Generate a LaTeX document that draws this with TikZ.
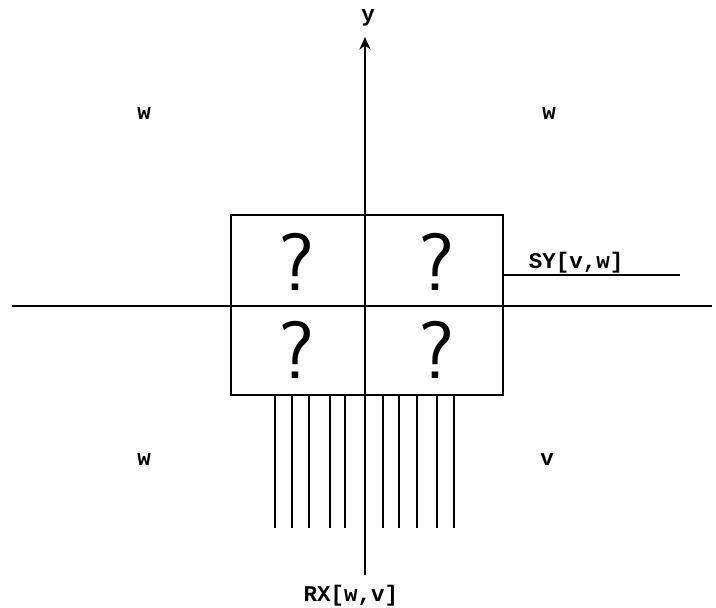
\documentclass[tikz,border=0pt]{standalone}
\usepackage{fontspec}
\setmonofont{Liberation Mono}
\usetikzlibrary{arrows.meta}

\begin{document}
\begin{tikzpicture}[
x=0.025cm, y=-0.025cm,
line width=1.2pt,
lbl/.style={
font=\fontsize{16}{16}\selectfont\ttfamily\bfseries,
inner sep=0pt
},
qmark/.style={
font=\fontsize{58}{58}\selectfont\sffamily,
inner sep=0pt
}
]
\useasboundingbox (0,0) rectangle (716,607);

% axes
\coordinate (xl) at (12,306);
\coordinate (xr) at (712,306);
\coordinate (yb) at (365,575);
\coordinate (yt) at (365,37);

\node[draw, line width=1.2pt, minimum width=6.8cm, minimum height=4.5cm,
inner sep=0pt] (box) at (367,305) {};

\draw (xl) -- (xr);
\draw[-{Stealth[length=9pt,width=8pt,inset=3pt]}] (yb) -- (yt);

\node[lbl] (ylab) at (368,18) {y};

% cells
\node[qmark] (q1) at (297,262) {?};
\node[qmark] (q2) at (437,262) {?};
\node[qmark] (q3) at (297,350) {?};
\node[qmark] (q4) at (437,350) {?};

% region labels
\node[lbl] (nw) at (144,114) {w};
\node[lbl] (ne) at (549,114) {w};
\node[lbl] (sw) at (144,460) {w};
\node[lbl] (se) at (547,460) {v};

% SY output
\coordinate (syend) at (680,275);
\draw (box.east |- syend) -- (syend);
\node[lbl, anchor=base west] (sy) at (528,268) {SY[v,w]};

% RX inputs
\foreach \px in {275,292,309,330,345,383,399,417,437,454}
\draw (\px,395) -- (\px,528);
\node[lbl] (rx) at (351,596) {RX[w,v]};

\end{tikzpicture}
\end{document}
